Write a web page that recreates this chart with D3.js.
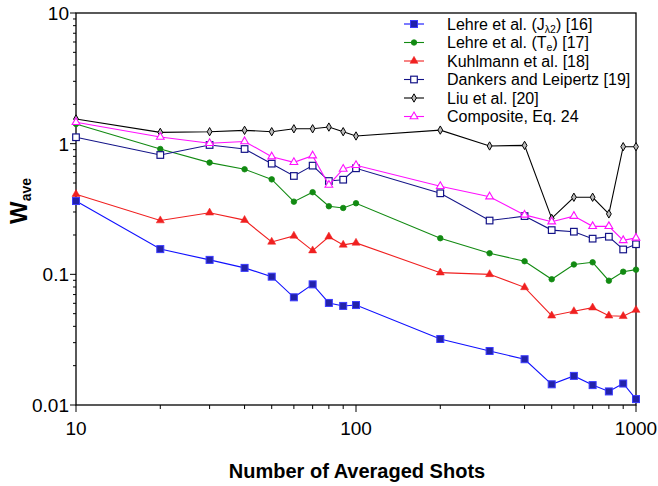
<!DOCTYPE html>
<html>
<head>
<meta charset="utf-8">
<script src="https://cdn.jsdelivr.net/npm/d3@7"></script>
<style>
  body { margin: 0; background: #fff; }
  svg { display: block; font-family: "Liberation Sans", Arial, sans-serif; }
</style>
</head>
<body>
<svg id="chart" width="658" height="486"></svg>
<script>
// shots (x) and W_ave per study
const shots = [10, 20, 30, 40, 50, 60, 70, 80, 90, 100, 200, 300, 400, 500, 600, 700, 800, 900, 1000];

const lehreJ = [0.364, 0.156, 0.129, 0.112, 0.096, 0.0667, 0.0838, 0.0604, 0.0573, 0.0582,
                0.032, 0.0259, 0.0224, 0.0144, 0.0167, 0.0142, 0.0127, 0.0146, 0.0111];
const lehreT = [1.415, 0.91, 0.716, 0.637, 0.533, 0.36, 0.425, 0.332, 0.322, 0.35,
                0.189, 0.145, 0.126, 0.0917, 0.119, 0.1236, 0.0894, 0.1047, 0.1086];
const kuhlmann = [0.41, 0.258, 0.296, 0.26, 0.177, 0.197, 0.152, 0.194, 0.168, 0.174,
                  0.103, 0.1, 0.0795, 0.0482, 0.0521, 0.0556, 0.0482, 0.0478, 0.0533];
const dankers = [1.12, 0.819, 0.977, 0.91, 0.703, 0.566, 0.679, 0.518, 0.53, 0.648,
                 0.417, 0.258, 0.279, 0.218, 0.212, 0.1875, 0.194, 0.155, 0.17];
const liu = [1.545, 1.22, 1.235, 1.265, 1.235, 1.30, 1.30, 1.34, 1.235, 1.145,
             1.27, 0.96, 0.97, 0.268, 0.389, 0.389, 0.29, 0.948, 0.948];
const composite = [1.46, 1.125, 1.007, 1.04, 0.795, 0.72, 0.81, 0.483, 0.64, 0.683,
                   0.472, 0.393, 0.285, 0.253, 0.279, 0.233, 0.233, 0.182, 0.19];

const yTicks = [0.01, 0.1, 1, 10];
const xTicks = [10, 100, 1000];

// legend labels: [main, subscript, rest]
const series = [
  { label: ["Lehre et al. (J", "\u03bb2", ") [16]"], values: lehreJ, line: "#1010ff", mark: "squareFill" },
  { label: ["Lehre et al. (T", "e", ") [17]"], values: lehreT, line: "#128a12", mark: "diamondFill" },
  { label: ["Kuhlmann et al. [18]", "", ""], values: kuhlmann, line: "#f02020", mark: "triFill" },
  { label: ["Dankers and Leipertz [19]", "", ""], values: dankers, line: "#141488", mark: "squareOpen" },
  { label: ["Liu et al. [20]", "", ""], values: liu, line: "#000000", mark: "diamondOpen" },
  { label: ["Composite, Eq. 24", "", ""], values: composite, line: "#ff10ff", mark: "triOpen" }
];

const svg = d3.select('#chart');
const pL = 76, pR = 636, pT = 13, pB = 405;

const x = d3.scaleLog().domain([10, 1000]).range([pL, pR]);
const y = d3.scaleLog().domain([0.01, 10]).range([pB, pT]);

// minor ticks
const minors = [];
[0.01, 0.1, 1].forEach(d => { for (let k = 2; k <= 9; k++) minors.push(d * k); });
const xMinors = [];
[10, 100].forEach(d => { for (let k = 2; k <= 9; k++) xMinors.push(d * k); });

const axes = svg.append('g').attr('stroke', '#000').attr('stroke-width', 1);
axes.selectAll('.ym').data(minors).enter().append('line')
  .attr('x1', pL - 3).attr('x2', pL)
  .attr('y1', d => y(d)).attr('y2', d => y(d));
axes.selectAll('.yM').data(yTicks).enter().append('line')
  .attr('x1', pL - 6).attr('x2', pL)
  .attr('y1', d => y(d)).attr('y2', d => y(d));
axes.selectAll('.xm').data(xMinors).enter().append('line')
  .attr('y1', pB).attr('y2', pB + 4)
  .attr('x1', d => x(d)).attr('x2', d => x(d));
axes.selectAll('.xM').data(xTicks).enter().append('line')
  .attr('y1', pB).attr('y2', pB + 7)
  .attr('x1', d => x(d)).attr('x2', d => x(d));

// frame
svg.append('rect')
  .attr('x', pL).attr('y', pT)
  .attr('width', pR - pL).attr('height', pB - pT)
  .attr('fill', 'none').attr('stroke', '#000').attr('stroke-width', 1.3);

// tick labels
svg.selectAll('.ylab').data(yTicks).enter().append('text')
  .attr('x', 69).attr('y', d => y(d) + 7)
  .attr('text-anchor', 'end').attr('font-size', 19)
  .text(d => d);
svg.selectAll('.xlab').data(xTicks).enter().append('text')
  .attr('x', d => x(d)).attr('y', 435)
  .attr('text-anchor', 'middle').attr('font-size', 19)
  .text(d => d);

// axis titles
svg.append('text')
  .attr('x', 357).attr('y', 478)
  .attr('text-anchor', 'middle').attr('font-size', 20).attr('font-weight', 'bold')
  .text('Number of Averaged Shots');

const yt = svg.append('text')
  .attr('transform', 'translate(27,201) rotate(-90)')
  .attr('text-anchor', 'middle').attr('font-weight', 'bold');
yt.append('tspan').attr('font-size', 24).text('W');
yt.append('tspan').attr('font-size', 14).attr('dy', 4).text('ave');

// markers
function drawMark(g, type, color, cx, cy) {
  if (type === 'squareFill') {
    g.append('rect').attr('x', cx - 3.5).attr('y', cy - 3.5).attr('width', 7).attr('height', 7)
      .attr('fill', '#2222aa').attr('stroke', '#3b3bff').attr('stroke-width', 1);
  } else if (type === 'squareOpen') {
    g.append('rect').attr('x', cx - 3.3).attr('y', cy - 3.3).attr('width', 6.6).attr('height', 6.6)
      .attr('fill', '#fff').attr('stroke', color).attr('stroke-width', 1.2);
  } else if (type === 'diamondFill') {
    g.append('path').attr('d', d3.symbol().type(d3.symbolCircle).size(24)())
      .attr('transform', `translate(${cx},${cy})`)
      .attr('fill', color).attr('stroke', color).attr('stroke-width', 0.8);
  } else if (type === 'diamondOpen') {
    g.append('path').attr('d', d3.symbol().type(d3.symbolDiamond).size(20)())
      .attr('transform', `translate(${cx},${cy})`)
      .attr('fill', '#bbb').attr('stroke', color).attr('stroke-width', 1);
  } else if (type === 'triFill') {
    g.append('path').attr('d', d3.symbol().type(d3.symbolTriangle).size(28)())
      .attr('transform', `translate(${cx},${cy})`)
      .attr('fill', color).attr('stroke', color).attr('stroke-width', 0.5);
  } else if (type === 'triOpen') {
    g.append('path').attr('d', d3.symbol().type(d3.symbolTriangle).size(26)())
      .attr('transform', `translate(${cx},${cy})`)
      .attr('fill', '#fff').attr('stroke', color).attr('stroke-width', 1.1);
  }
}

const line = d3.line().x(d => x(d[0])).y(d => y(d[1]));

series.forEach(s => {
  const pts = shots.map((d, i) => [d, s.values[i]]);
  const g = svg.append('g');
  g.append('path').attr('d', line(pts))
    .attr('fill', 'none').attr('stroke', s.line).attr('stroke-width', 1.1);
  pts.forEach(p => drawMark(g, s.mark, s.line, x(p[0]), y(p[1])));
});

// legend
const leg = svg.append('g');
series.forEach((s, i) => {
  const ly = 24 + i * 18.5;
  leg.append('line').attr('x1', 404).attr('x2', 424).attr('y1', ly).attr('y2', ly)
    .attr('stroke', s.line).attr('stroke-width', 1.1);
  drawMark(leg, s.mark, s.line, 414, ly);
  const t = leg.append('text').attr('x', 447).attr('y', ly + 5.5).attr('font-size', 16);
  t.append('tspan').text(s.label[0]);
  if (s.label[1]) {
    t.append('tspan').attr('font-size', 10.5).attr('dy', 3).text(s.label[1]);
    t.append('tspan').attr('dy', -3).text(s.label[2]);
  }
});
</script>
</body>
</html>
